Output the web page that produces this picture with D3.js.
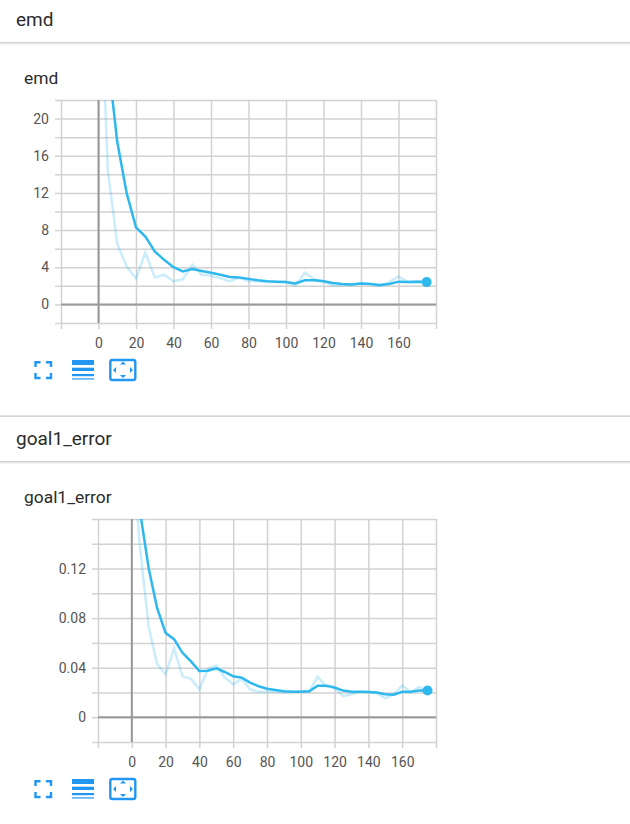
<!DOCTYPE html>
<html>
<head>
<meta charset="utf-8">
<script src="https://cdn.jsdelivr.net/npm/d3@7"></script>
<style>
  html, body { margin: 0; padding: 0; background: #fff; overflow: hidden; }
  body { width: 630px; height: 824px; position: relative; font-family: Roboto, sans-serif; }
  .pane-head { position: absolute; left: -5px; width: 640px; height: 44px; background: #fff;
    box-shadow: 0 1px 3px rgba(0,0,0,.28); color: #2b2b2b; font-size: 19px; line-height: 44px; box-sizing: border-box; padding-left: 21px; }
  .pane-rule { position: absolute; left: 0; width: 630px; height: 2px; background: #e2e2e2; }
  svg { position: absolute; left: 0; top: 0; }
  .tick text { font-family: Roboto, sans-serif; font-size: 14px; fill: #555; }
  .title { font-family: Roboto, sans-serif; font-size: 17.4px; fill: #2b2b2b; }
</style>
</head>
<body>
<div class="pane-head" style="top:-2px">emd</div>
<div class="pane-rule" style="top:415px"></div>
<div class="pane-head" style="top:417px">goal1_error</div>
<svg id="chart" width="630" height="824"></svg>
<script>
// steps logged every 5
const steps = [0,5,10,15,20,25,30,35,40,45,50,55,60,65,70,75,80,85,90,95,100,105,110,115,120,125,130,135,140,145,150,155,160,165,170,175];

const emdRaw = [40,14.4,6.5,4.1,2.8,5.6,2.9,3.2,2.5,2.7,4.3,3.2,3.1,2.8,2.5,2.9,2.5,2.5,2.4,2.4,2.4,2.0,3.4,2.7,2.5,2.0,2.1,2.1,2.3,2.2,2.0,2.4,3.0,2.4,2.5,2.4];
const emdSmooth = [40,26.5,17.5,12,8.3,7.3,5.7,4.8,4.0,3.55,3.8,3.6,3.4,3.2,2.95,2.9,2.75,2.6,2.5,2.45,2.4,2.25,2.6,2.6,2.5,2.3,2.2,2.15,2.25,2.2,2.1,2.2,2.45,2.4,2.45,2.4];

const goalRaw = [0.215,0.135,0.0727,0.043,0.0345,0.0555,0.033,0.031,0.0225,0.039,0.0418,0.032,0.0265,0.031,0.0225,0.0205,0.0205,0.0205,0.02,0.0205,0.0205,0.021,0.0325,0.025,0.0235,0.017,0.0185,0.0205,0.0205,0.0195,0.0153,0.0185,0.0258,0.02,0.0245,0.021];
const goalSmooth = [0.215,0.165,0.12,0.088,0.068,0.063,0.052,0.045,0.0373,0.0375,0.0395,0.0365,0.033,0.032,0.028,0.025,0.023,0.022,0.021,0.0205,0.0205,0.021,0.0255,0.0255,0.024,0.0215,0.0205,0.0205,0.0203,0.02,0.0185,0.0182,0.0205,0.0205,0.0215,0.0215];

const xTicks = [-20,0,20,40,60,80,100,120,140,160,180];
const xLabels = [0,20,40,60,80,100,120,140,160];
const emdTicks = [-2,0,2,4,6,8,10,12,14,16,18,20,22];
const emdLabels = [0,4,8,12,16,20];
const goalTicks = [-0.02,0,0.02,0.04,0.06,0.08,0.10,0.12,0.14,0.16];
const goalLabels = [0,0.04,0.08,0.12];

const blue = "#2fb8ee";
const iconBlue = "#2196f3";
const gridColor = "#d2d2d2";
const svg = d3.select("#chart");

function drawChart(o) {
  const g = svg.append("g").attr("transform", `translate(0,${o.dy})`);
  const x = d3.scaleLinear().domain([-20, 180]).range([o.left, 436]);
  const y = d3.scaleLinear().domain(o.yDomain).range([o.bottom, o.top]);

  g.append("text").attr("class", "title").attr("x", 24).attr("y", 84).text(o.title);

  const xAxis = d3.axisBottom(x).tickValues(xTicks).tickSize(6).tickPadding(6)
    .tickFormat(d => xLabels.includes(d) ? d : "");
  const yAxis = d3.axisLeft(y).tickValues(o.yTicks).tickSize(6).tickPadding(6)
    .tickFormat(d => o.yLabels.includes(d) ? o.fmt(d) : "");

  g.append("g").attr("transform", `translate(0,${o.bottom})`).call(xAxis)
    .call(a => a.select(".domain").remove())
    .call(a => a.selectAll(".tick line").attr("stroke", gridColor).attr("stroke-width", 1.5))
    .call(a => a.selectAll(".tick line").clone()
      .attr("y2", o.top - o.bottom))
    .call(a => a.selectAll(".tick text").attr("dy", "0.9em"));

  g.append("g").attr("transform", `translate(${o.left},0)`).call(yAxis)
    .call(a => a.select(".domain").remove())
    .call(a => a.selectAll(".tick line").attr("stroke", gridColor).attr("stroke-width", 1.5))
    .call(a => a.selectAll(".tick line").clone()
      .attr("x2", 436 - o.left));

  // axes through zero
  g.append("line").attr("x1", x(-20)).attr("x2", x(180)).attr("y1", y(0)).attr("y2", y(0))
    .attr("stroke", "#999").attr("stroke-width", 2);
  g.append("line").attr("x1", x(0)).attr("x2", x(0)).attr("y1", o.top).attr("y2", o.bottom)
    .attr("stroke", "#999").attr("stroke-width", 2);

  g.append("clipPath").attr("id", "clip" + o.dy).append("rect")
    .attr("x", o.left).attr("y", o.top).attr("width", 436 - o.left).attr("height", o.bottom - o.top);

  const line = d3.line().x((d, i) => x(steps[i])).y(d => y(d));
  const plot = g.append("g").attr("clip-path", `url(#clip${o.dy})`);
  plot.append("path").attr("d", line(o.raw)).attr("fill", "none")
    .attr("stroke", blue).attr("stroke-opacity", 0.25).attr("stroke-width", 2.5);
  plot.append("path").attr("d", line(o.smooth)).attr("fill", "none")
    .attr("stroke", blue).attr("stroke-width", 2.5);

  g.append("circle").attr("cx", x(steps[steps.length - 1])).attr("cy", y(o.smooth[o.smooth.length - 1]))
    .attr("r", 5).attr("fill", blue);

  // toolbar icons
  const ic = g.append("g").attr("fill", iconBlue);
  ic.append("path").attr("fill", "none").attr("stroke", iconBlue).attr("stroke-width", 2.4)
    .attr("d", "M35.5 367V362.2H40.5M46 362.2H51V367M51 373V378H46M40.5 378H35.5V373");
  ic.append("rect").attr("x", 72).attr("y", 360).attr("width", 22).attr("height", 5);
  ic.append("rect").attr("x", 72).attr("y", 367.7).attr("width", 22).attr("height", 3.3);
  ic.append("rect").attr("x", 72).attr("y", 374).attr("width", 22).attr("height", 2.2);
  ic.append("rect").attr("x", 72).attr("y", 378.3).attr("width", 22).attr("height", 1.2);
  ic.append("rect").attr("x", 110.3).attr("y", 360).attr("width", 25).attr("height", 20).attr("rx", 2)
    .attr("fill", "none").attr("stroke", iconBlue).attr("stroke-width", 2.4);
  ic.append("path").attr("d", "M123 361.5l3 3h-6zM123 378l3-3h-6zM113 370l3-3v6zM133 370l-3-3v6z");
}

drawChart({ title: "emd", dy: 0, left: 61, top: 100, bottom: 323, yDomain: [-2, 22],
  yTicks: emdTicks, yLabels: emdLabels, fmt: d => d, raw: emdRaw, smooth: emdSmooth });
drawChart({ title: "goal1_error", dy: 419, left: 98, top: 100, bottom: 323, yDomain: [-0.02, 0.16],
  yTicks: goalTicks, yLabels: goalLabels, fmt: d => d === 0 ? "0" : d3.format(".2f")(d), raw: goalRaw, smooth: goalSmooth });
</script>
</body>
</html>
